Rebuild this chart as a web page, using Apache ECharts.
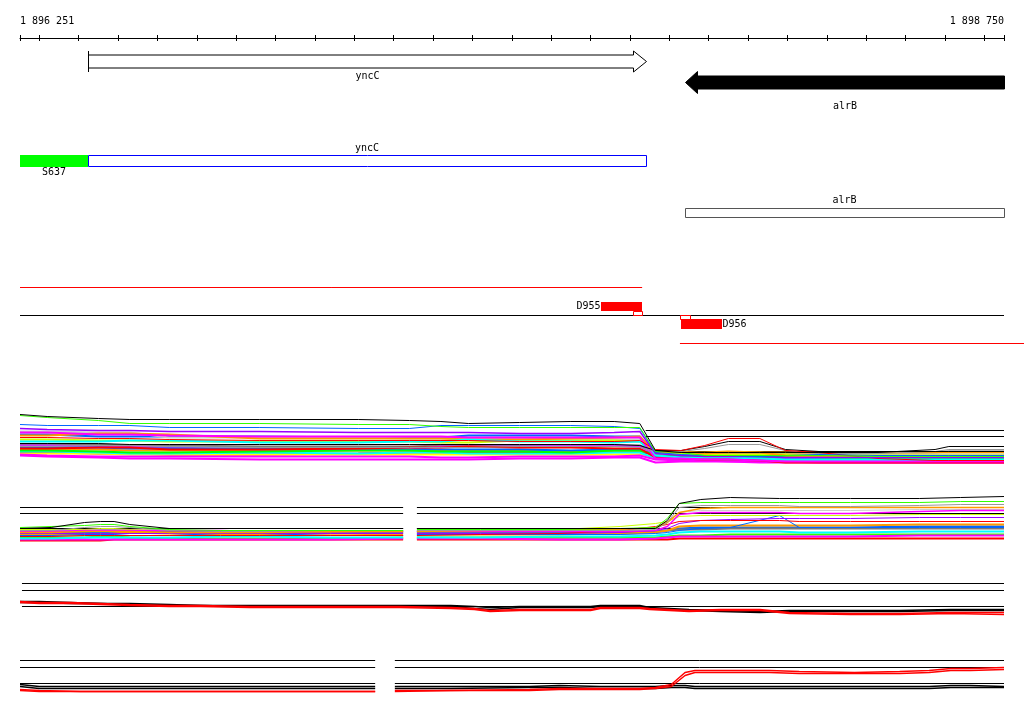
<!DOCTYPE html>
<html><head><meta charset="utf-8">
<script src="https://cdn.jsdelivr.net/npm/echarts@6/dist/echarts.min.js"></script>
<style>html,body{margin:0;padding:0;background:#fff}#c{width:1024px;height:714px}</style>
</head><body><div id="c"></div>
<script>
// ---------------- DATA ----------------
const X_MIN = 1896251, X_MAX = 1898750;
const TICK_VALUES = [1896251,1896300,1896400,1896500,1896600,1896700,1896800,1896900,1897000,1897100,1897200,1897300,1897400,1897500,1897600,1897700,1897800,1897900,1898000,1898100,1898200,1898300,1898400,1898500,1898600,1898700,1898750];
const TICK_LABELS = [1896251, 1898750];

const GENE_NAMES = ['yncC', 'alrB'];
const GENE_START = [1896424, 1897940];
const GENE_END = [1897841, 1898750];
const GENE_STRAND = ['+', '-'];

const REGION_NAMES = ['S637', 'yncC', 'alrB'];
const REGION_START = [1896251, 1896424, 1897940];
const REGION_END = [1896424, 1897841, 1898750];
const REGION_STRAND = ['+', '+', '-'];
const REGION_TYPE = ['promoter', 'cds', 'cds'];

const STRAND_LINE_START = [1896251, 1896251, 1897927];
const STRAND_LINE_END = [1897831, 1898750, 1898801];
const STRAND_LINE_KIND = ['+', '0', '-'];

const PROBE_NAMES = ['D955', 'D956'];
const PROBE_START = [1897727, 1897930];
const PROBE_END = [1897830, 1898034];
const PROBE_STRAND = ['+', '-'];
const PROBE_ANCHOR_START = [1897809, 1897927];
const PROBE_ANCHOR_END = [1897831, 1897952];

// panel 1
const P1_POS = [1896251,1896320,1896450,1896530,1896630,1896860,1897110,1897240,1897320,1897390,1897520,1897650,1897760,1897825,1897865,1897930,1897990,1898050,1898130,1898195,1898280,1898430,1898575,1898610,1898750];
const P1_T01 = [53,51,49,48,48,48,48,47,46,44,45,46,46,44,17,15,15,15,15,15,15,15,18,21,21];
const P1_T02 = [52,50,47,44,44,44,43,43,41,40,40,40,40,40,16,15,12,12,12,12,12,11,11,11,11];
const P1_T03 = [43,42,42,42,40,40,39,39,42,42,42,42,41,39,15,13,12,12,11,12,13,12,12,12,12];
const P1_T04 = [39,38,37,37,36,36,35,35,35,35,34,34,35,36,14,12,11,11,11,10,10,10,10,10,10];
const P1_T05 = [30,30,29,29,28,27,27,27,27,27,26,26,26,27,18,17,22,29,29,17,15,9,7,7,7];
const P1_T06 = [24,24,24,23,23,23,23,23,23,23,23,23,23,22,17,17,21,26,26,18,16,16,16,16,16];
const P1_T07 = [21,21,22,22,21,20,20,20,20,20,21,21,21,20,16,16,19,23,23,17,14,14,16,18,18];
const P1_T08 = [35,35,33,33,32,31,31,31,31,30,30,30,30,30,9,9,8,8,7,6,6,6,6,6,6];
const P1_T09 = [26,26,26,27,27,25,25,26,26,28,26,26,25,26,12,10,10,10,9,8,8,8,8,8,8];
const P1_T10 = [32,32,34,34,33,29,29,29,29,28,28,29,30,31,15,16,14,15,15,12,11,11,11,11,11];
const P1_T11 = [28,28,27,27,26,26,26,26,25,25,27,27,27,26,15,14,13,13,13,13,12,12,12,12,12];
const P1_T12 = [36,36,35,35,30,30,30,29,29,29,29,29,28,28,14,14,13,13,13,13,13,13,13,13,13];
const P1_T13 = [19,19,20,20,18,18,19,20,20,21,20,20,19,19,10,9,8,8,7,5,5,5,5,5,5];
const P1_T14 = [13,12,11,11,11,11,11,11,10,10,11,11,11,12,8,7,7,6,6,6,5,5,5,5,5];
const P1_T15 = [17,17,16,15,15,16,17,17,16,16,16,15,17,17,13,12,11,11,11,11,10,9,9,9,9];
const P1_T16 = [20,20,20,19,19,19,19,18,18,18,18,17,18,18,11,11,11,11,10,10,10,10,10,10,10];
const P1_T17 = [22,22,21,21,20,18,18,18,21,21,21,22,22,21,12,11,10,10,9,9,9,9,9,9,9];
const P1_T18 = [16,16,15,14,14,15,14,15,15,14,14,14,15,15,9,8,8,7,7,7,7,7,7,7,7];
const P1_T19 = [18,18,18,17,17,17,17,17,17,17,17,16,16,16,14,15,15,16,15,15,14,14,15,15,15];
const P1_T20 = [14,14,14,13,13,13,13,13,13,13,13,13,13,13,12,12,11,11,11,11,11,11,11,11,11];
const P1_T21 = [15,15,14,14,13,13,14,15,15,15,15,15,16,16,11,10,9,9,7,7,7,7,7,7,7];
const P1_T22 = [12,11,10,9,9,8,8,8,8,8,9,9,10,10,5,6,6,6,5,5,5,5,5,5,5];
const P1_T23 = [33,33,31,31,31,31,30,30,30,32,32,32,31,31,12,12,12,11,11,11,11,11,11,11,11];
const P1_T24 = [23,23,23,22,22,21,21,21,22,22,22,22,22,22,16,15,14,14,14,14,14,14,15,16,16];
const P1_REF_LEVELS = [37, 31, 16];
const P1_REF_SEGMENTS = [[1897840, 1898750]];

// panel 2
const P2_POS = [1896251,1896330,1896415,1896455,1896490,1896530,1896630,1896760,1896860,1897040,1897224,1897240,1897259,1897420,1897620,1897775,1897865,1897895,1897925,1897980,1898055,1898180,1898230,1898360,1898535,1898640,1898750];
const P2_T01 = [14,15,20,21,21,18,14,14,14,14,14,null,14,14,14,14,14,22,39,43,45,44,44,44,44,45,46];
const P2_T02 = [15,16,17,18,18,16,13,12,12,12,12,null,13,13,13,14,15,24,39,40,40,40,40,40,40,41,41];
const P2_T03 = [12,12,15,16,16,15,12,11,11,12,12,null,12,12,12,12,13,20,35,37,37,37,36,36,37,38,38];
const P2_T04 = [10,10,11,11,11,11,10,10,10,11,11,null,11,12,13,13,15,20,30,34,35,35,35,35,35,35,35];
const P2_T05 = [11,11,12,12,12,12,12,12,11,11,11,null,11,11,11,11,12,16,28,30,30,30,29,29,31,32,32];
const P2_T06 = [13,13,13,14,14,13,12,12,12,12,12,null,12,12,13,16,19,21,26,27,27,27,27,27,28,28,28];
const P2_T07 = [6,6,7,7,7,7,7,7,7,7,7,null,7,8,9,12,16,18,21,22,22,22,21,21,21,21,21];
const P2_T08 = [9,9,9,9,9,9,9,9,9,9,9,null,9,9,9,10,12,14,19,22,23,24,24,24,25,25,25];
const P2_T09 = [7,7,8,8,8,7,7,9,9,7,7,null,8,8,8,8,9,10,12,14,15,27,15,15,15,15,15];
const P2_T10 = [4,4,5,5,5,5,5,6,6,5,5,null,5,5,6,6,7,8,10,11,11,11,10,10,11,11,11];
const P2_T11 = [3,3,3,3,3,3,3,3,3,3,4,null,4,4,3,3,4,5,6,6,6,6,6,6,7,7,7];
const P2_T12 = [5,5,5,6,6,5,4,4,4,4,5,null,5,5,5,5,5,6,7,7,8,8,8,8,8,8,8];
const P2_T13 = [8,8,8,8,9,10,9,8,8,9,8,null,8,8,8,9,10,12,16,17,17,17,17,17,18,18,18];
const P2_T14 = [2,2,2,2,3,3,3,3,3,3,3,null,3,3,3,3,3,3,4,4,4,4,4,4,4,4,4];
const P2_T15 = [11,11,11,12,12,12,11,11,11,11,11,null,11,11,11,11,11,12,13,13,14,14,14,14,14,14,14];
const P2_T16 = [12,12,13,13,13,12,11,11,11,11,11,null,11,11,11,12,14,20,30,32,32,32,32,32,33,33,33];
const P2_T17 = [10,10,10,10,10,10,10,10,10,10,10,null,10,10,10,10,11,12,14,15,15,15,15,15,16,16,16];
const P2_REF_LEVELS = [35, 29, 14];
const P2_REF_SEGMENTS = [[1896251, 1897224], [1897259, 1898750]];

// panel 3
const P3_POS = [1896251,1896300,1896380,1896455,1896530,1896630,1896710,1896835,1896960,1897090,1897215,1897345,1897405,1897445,1897520,1897620,1897700,1897725,1897825,1897850,1897950,1898030,1898130,1898205,1898360,1898485,1898615,1898750];
const P3_BLACK1 = [17,17,16,15,15,14,13,13,13,13,13,13,12,11,12,12,12,13,13,11,9,8,7,8,8,8,9,9];
const P3_BLACK2 = [16,16,15,15,14,13,13,12,12,12,12,12,10,9,11,11,11,12,12,10,8,7,6,7,7,7,8,8];
const P3_RED1 = [17,16,16,15,14,13,13,12,12,12,12,11,10,8,9,9,9,11,11,10,8,9,9,6,5,5,6,6];
const P3_RED2 = [16,15,15,14,13,12,12,11,11,11,11,10,9,7,8,8,8,10,10,9,7,8,8,5,4,4,5,4];
const P3_REF_LEVELS = [35, 28, 12];
const P3_REF_SEGMENTS = [[1896256, 1898750]];

// panel 4
const P4_POS = [1896251,1896300,1896405,1896580,1896835,1896960,1897153,1897178,1897203,1897345,1897545,1897620,1897725,1897825,1897865,1897905,1897940,1897965,1898155,1898230,1898370,1898485,1898560,1898615,1898665,1898750];
const P4_BLACK1 = [11,9,9,9,9,9,9,null,9,9,9,10,9,9,9,10,10,9,9,9,9,9,9,10,10,9];
const P4_BLACK2 = [9,7,7,7,7,7,7,null,7,7,8,8,7,7,7,8,8,7,7,7,7,7,7,8,8,8];
const P4_RED1 = [6,5,4,4,4,4,4,null,4,5,6,7,7,7,8,11,23,25,25,24,23,24,25,27,27,28];
const P4_RED2 = [5,4,4,4,4,4,4,null,5,5,5,6,6,6,7,9,20,23,23,22,22,22,23,25,25,26];
const P4_REF_LEVELS = [35, 28, 12];
const P4_REF_SEGMENTS = [[1896251, 1897153], [1897203, 1898750]];

// ---------------- STYLE / LAYOUT ----------------
const FONT = '10px "DejaVu Sans Mono"';
const GRID_LEFT = 20, GRID_WIDTH = 984, GENE_TOP = 38;
const P1_COLORS = ['#000000','#33ff00','#0066ff','#9900ff','#ff0000','#000000','#999999','#ff00ff','#00ffff','#ff9900','#ccff00','#cccccc','#ff0000','#ff00ff','#00ff00','#0066ff','#cc33ff','#00ffff','#ff9900','#ffff00','#ff0000','#ff00ff','#0066ff','#777777'];
const P1_WIDTHS = [1,1,1,1.5,1,1,1,2,2,2,2,2,2,2,2,2,2,2,2,2,2,2,2,2];
const P2_COLORS = ['#000000','#33ff00','#999999','#ff9900','#ff00ff','#ccff00','#ff0000','#9900ff','#0066ff','#00ffff','#ff00ff','#33ff00','#ff9900','#ff0000','#777777','#cccccc','#0066ff'];
const P2_WIDTHS = [1,1,1,1.5,1.5,1,1,1,1,2,2,2,2,2,2,1,2];

const chart = echarts.init(document.getElementById('c'));
const crisp = v => Math.round(v) + 0.5;
function yAbs(api, abs) { return api.coord([X_MIN, abs - GENE_TOP])[1]; }
function xOf(api, bp) { return api.coord([bp, 0])[0]; }
function txt(text, x, y, align, color) {
  return { type: 'text', style: { text, x, y, fill: color || '#000', font: FONT, align, verticalAlign: 'middle' } };
}

function renderGene(params, api) {
  const i = params.dataIndex;
  const x1 = crisp(xOf(api, GENE_START[i])), x2 = crisp(xOf(api, GENE_END[i]));
  const fwd = GENE_STRAND[i] === '+';
  const cy = fwd ? yAbs(api, 61.5) : yAbs(api, 82.5);
  const bh = 6.5, hh = fwd ? 10.5 : 11, hl = fwd ? 13 : 12;
  let pts;
  if (fwd) pts = [[x1, cy - bh], [x2 - hl, cy - bh], [x2 - hl, cy - hh], [x2, cy], [x2 - hl, cy + hh], [x2 - hl, cy + bh], [x1, cy + bh]];
  else pts = [[x2, cy - bh], [x1 + hl, cy - bh], [x1 + hl, cy - hh], [x1, cy], [x1 + hl, cy + hh], [x1 + hl, cy + bh], [x2, cy + bh]];
  const children = [{ type: 'polygon', shape: { points: pts }, style: { fill: fwd ? '#fff' : '#000', stroke: '#000', lineWidth: 1 } }];
  if (fwd) children.push({ type: 'line', shape: { x1: x1, y1: cy - hh, x2: x1, y2: cy + hh }, style: { stroke: '#000', lineWidth: 1 } });
  children.push(txt(GENE_NAMES[i], (x1 + x2) / 2, fwd ? yAbs(api, 76.5) : yAbs(api, 106.5), 'center'));
  return { type: 'group', children };
}

function renderRegion(params, api) {
  const i = params.dataIndex;
  const x1 = xOf(api, REGION_START[i]), x2 = xOf(api, REGION_END[i]);
  const fwd = REGION_STRAND[i] === '+';
  const children = [];
  if (REGION_TYPE[i] === 'promoter') {
    const top = yAbs(api, 155), bot = yAbs(api, 167);
    children.push({ type: 'rect', shape: { x: Math.round(x1), y: top, width: Math.round(x2) - Math.round(x1), height: bot - top }, style: { fill: '#00ff00' } });
    children.push(txt(REGION_NAMES[i], (x1 + x2) / 2, yAbs(api, 172.5), 'center'));
  } else {
    const top = fwd ? yAbs(api, 155.5) : yAbs(api, 208.5);
    const bot = fwd ? yAbs(api, 166.5) : yAbs(api, 217.5);
    children.push({ type: 'rect', shape: { x: crisp(x1), y: top, width: crisp(x2) - crisp(x1), height: bot - top }, style: { fill: '#fff', stroke: fwd ? '#0000ff' : '#555555', lineWidth: 1 } });
    children.push(txt(REGION_NAMES[i], (x1 + x2) / 2, fwd ? yAbs(api, 148.5) : yAbs(api, 200.5), 'center'));
  }
  return { type: 'group', children };
}

function renderStrandLine(params, api) {
  const i = params.dataIndex;
  const k = STRAND_LINE_KIND[i];
  const y = k === '+' ? yAbs(api, 287.5) : k === '-' ? yAbs(api, 343.5) : yAbs(api, 315.5);
  return { type: 'line', shape: { x1: xOf(api, STRAND_LINE_START[i]), y1: y, x2: xOf(api, STRAND_LINE_END[i]), y2: y },
           style: { stroke: k === '0' ? '#000' : '#ff0000', lineWidth: 1 } };
}

function renderProbe(params, api) {
  const i = params.dataIndex;
  const fwd = PROBE_STRAND[i] === '+';
  const x1 = Math.round(xOf(api, PROBE_START[i])), x2 = Math.round(xOf(api, PROBE_END[i]));
  const a1 = crisp(xOf(api, PROBE_ANCHOR_START[i])), a2 = crisp(xOf(api, PROBE_ANCHOR_END[i]));
  const fTop = fwd ? yAbs(api, 302) : yAbs(api, 319);
  const fBot = fwd ? yAbs(api, 311) : yAbs(api, 329);
  const aTop = fwd ? yAbs(api, 311.5) : yAbs(api, 315.5);
  const aBot = fwd ? yAbs(api, 315.5) : yAbs(api, 319.5);
  const children = [
    { type: 'rect', shape: { x: x1, y: fTop, width: x2 - x1, height: fBot - fTop }, style: { fill: '#ff0000' } },
    { type: 'rect', shape: { x: a1, y: aTop, width: a2 - a1, height: aBot - aTop }, style: { fill: '#fff', stroke: '#ff0000', lineWidth: 1 } },
    fwd ? txt(PROBE_NAMES[i], x1 - 0.5, (fTop + fBot) / 2, 'right') : txt(PROBE_NAMES[i], x2 + 0.5, (fTop + fBot) / 2, 'left')
  ];
  return { type: 'group', children };
}

function customSeries(starts, ends, render) {
  return { type: 'custom', xAxisIndex: 0, yAxisIndex: 0, silent: true, clip: false, animation: false,
           data: starts.map((s, i) => [s, ends[i], 0]), encode: { x: [0, 1], y: 2 }, renderItem: render, z: 5 };
}

function traceSeries(pos, vals, color, panel, width) {
  return { type: 'line', xAxisIndex: panel + 1, yAxisIndex: panel, silent: true, animation: false,
           symbol: 'none', showSymbol: false, connectNulls: false, z: 3,
           lineStyle: { color, width: width || 1 }, data: pos.map((p, k) => [p, vals[k] === null ? '-' : vals[k]]) };
}

function refSeries(levels, segments, panel) {
  const out = [];
  levels.forEach(l => segments.forEach(seg => {
    out.push({ type: 'line', xAxisIndex: panel + 1, yAxisIndex: panel, silent: true, animation: false,
               symbol: 'none', z: 2, lineStyle: { color: '#000', width: 1 }, data: [[seg[0], l], [seg[1], l]] });
  }));
  return out;
}

const fmt = v => String(v).replace(/\B(?=(\d{3})+(?!\d))/g, ' ');
const lblStyle = { color: '#000', fontFamily: 'DejaVu Sans Mono', fontSize: 10, margin: 12, formatter: fmt, showMinLabel: true, showMaxLabel: true };

const grids = [
  { left: GRID_LEFT, width: GRID_WIDTH, top: GENE_TOP, height: 312 },
  { left: GRID_LEFT, width: GRID_WIDTH, top: 407.5, height: 60 },
  { left: GRID_LEFT, width: GRID_WIDTH, top: 482.5, height: 60 },
  { left: GRID_LEFT, width: GRID_WIDTH, top: 578.5, height: 40 },
  { left: GRID_LEFT, width: GRID_WIDTH, top: 655.5, height: 40 }
];
const xAxes = [
  { type: 'value', gridIndex: 0, position: 'top', min: X_MIN, max: X_MAX,
    axisLine: { show: true, onZero: false, lineStyle: { color: '#000', width: 1 } },
    axisTick: { show: true, inside: false, length: 3, customValues: TICK_VALUES, lineStyle: { color: '#000' } },
    axisLabel: Object.assign({ customValues: [TICK_LABELS[0]], align: 'left' }, lblStyle),
    splitLine: { show: false } },
  { type: 'value', gridIndex: 0, position: 'top', min: X_MIN, max: X_MAX,
    axisLine: { show: false, onZero: false },
    axisTick: { show: true, inside: true, length: 3, customValues: TICK_VALUES, lineStyle: { color: '#000' } },
    axisLabel: Object.assign({ customValues: [TICK_LABELS[1]], align: 'right' }, lblStyle),
    splitLine: { show: false } }
];
const yAxes = [{ type: 'value', gridIndex: 0, min: 0, max: 312, inverse: true, show: false }];
const panelMax = [60, 60, 40, 40];
for (let p = 1; p <= 4; p++) {
  xAxes.push({ type: 'value', gridIndex: p, min: X_MIN, max: X_MAX, show: false });
  yAxes.push({ type: 'value', gridIndex: p, min: 0, max: panelMax[p - 1], show: false });
}

const P1_TRACES = [P1_T01,P1_T02,P1_T03,P1_T04,P1_T05,P1_T06,P1_T07,P1_T08,P1_T09,P1_T10,P1_T11,P1_T12,P1_T13,P1_T14,P1_T15,P1_T16,P1_T17,P1_T18,P1_T19,P1_T20,P1_T21,P1_T22,P1_T23,P1_T24];
const P2_TRACES = [P2_T01,P2_T02,P2_T03,P2_T04,P2_T05,P2_T06,P2_T07,P2_T08,P2_T09,P2_T10,P2_T11,P2_T12,P2_T13,P2_T14,P2_T15,P2_T16,P2_T17];

const series = [
  customSeries(GENE_START, GENE_END, renderGene),
  customSeries(REGION_START, REGION_END, renderRegion),
  customSeries(STRAND_LINE_START, STRAND_LINE_END, renderStrandLine),
  customSeries(PROBE_START, PROBE_END, renderProbe)
];
series.push(...refSeries(P1_REF_LEVELS, P1_REF_SEGMENTS, 1));
series.push(...refSeries(P2_REF_LEVELS, P2_REF_SEGMENTS, 2));
series.push(...refSeries(P3_REF_LEVELS, P3_REF_SEGMENTS, 3));
series.push(...refSeries(P4_REF_LEVELS, P4_REF_SEGMENTS, 4));
for (let k = P1_TRACES.length - 1; k >= 0; k--) series.push(traceSeries(P1_POS, P1_TRACES[k], P1_COLORS[k], 1, P1_WIDTHS[k]));
for (let k = P2_TRACES.length - 1; k >= 0; k--) series.push(traceSeries(P2_POS, P2_TRACES[k], P2_COLORS[k], 2, P2_WIDTHS[k]));
series.push(traceSeries(P3_POS, P3_BLACK2, '#000', 3, 1.5), traceSeries(P3_POS, P3_BLACK1, '#000', 3, 1.5),
            traceSeries(P3_POS, P3_RED2, '#ff0000', 3, 1.5), traceSeries(P3_POS, P3_RED1, '#ff0000', 3, 1.5));
series.push(traceSeries(P4_POS, P4_BLACK2, '#000', 4, 1.5), traceSeries(P4_POS, P4_BLACK1, '#000', 4, 1.5),
            traceSeries(P4_POS, P4_RED2, '#ff0000', 4, 1.5), traceSeries(P4_POS, P4_RED1, '#ff0000', 4, 1.5));

chart.setOption({ backgroundColor: '#fff', animation: false, grid: grids, xAxis: xAxes, yAxis: yAxes, series });
</script></body></html>
